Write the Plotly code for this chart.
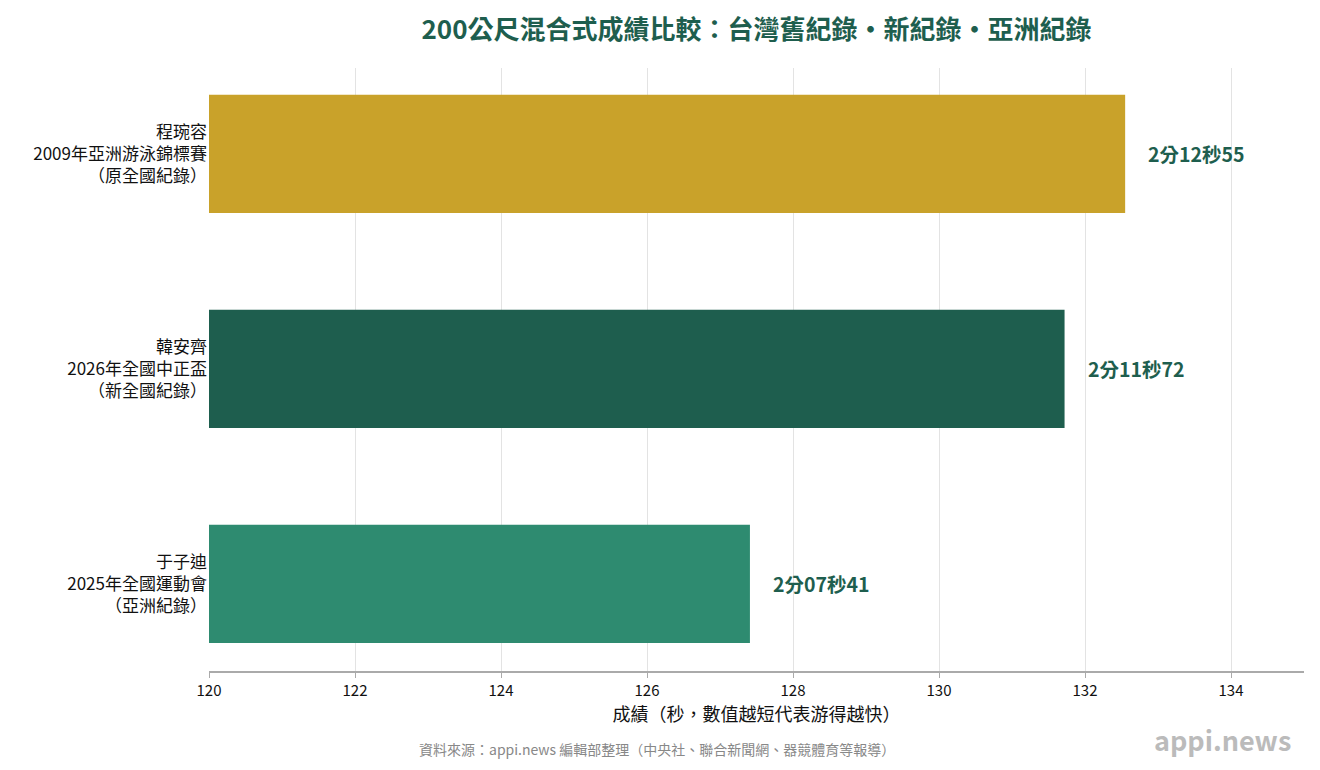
import plotly.graph_objects as go

# data
labels = [
    "于子迪<br>2025年全國運動會<br>（亞洲紀錄）",
    "韓安齊<br>2026年全國中正盃<br>（新全國紀錄）",
    "程琬容<br>2009年亞洲游泳錦標賽<br>（原全國紀錄）",
]
seconds = [127.41, 131.72, 132.55]
time_text = ["2分07秒41", "2分11秒72", "2分12秒55"]
bar_colors = ["#2E8B70", "#1E5E4E", "#C9A22A"]

FONT = "Noto Sans CJK TC"
GREEN = "#1E5E4E"

fig = go.Figure()
fig.add_trace(
    go.Bar(
        x=seconds,
        y=labels,
        orientation="h",
        width=0.55,
        marker=dict(color=bar_colors, line=dict(width=0)),
        hoverinfo="x",
    )
)

# value labels to the right of each bar
for lab, val, txt in zip(labels, seconds, time_text):
    fig.add_annotation(
        x=val, y=lab, text="<b>%s</b>" % txt, showarrow=False,
        xanchor="left", xshift=21, font=dict(size=19.5, color=GREEN, family=FONT),
    )

fig.add_annotation(
    x=0.409, y=-0.129, xref="paper", yref="paper", showarrow=False,
    text="資料來源：appi.news 編輯部整理（中央社、聯合新聞網、器競體育等報導）",
    font=dict(size=14, color="#888888", family=FONT), xanchor="center", yanchor="middle",
)
fig.add_annotation(
    x=0.99, y=-0.114, xref="paper", yref="paper", showarrow=False,
    text="<b>appi.news</b>", font=dict(size=27, color="#BBBBBB", family=FONT),
    xanchor="right", yanchor="middle",
)

fig.update_layout(
    width=1320, height=770,
    margin=dict(l=201, r=24, t=60, b=107),
    paper_bgcolor="white", plot_bgcolor="white",
    showlegend=False,
    font=dict(family=FONT, color="#111111"),
    title=dict(
        text="<b>200公尺混合式成績比較：台灣舊紀錄・新紀錄・亞洲紀錄</b>",
        x=0.5, xref="paper", y=0.972, yanchor="middle",
        font=dict(size=26, color=GREEN, family=FONT),
    ),
)
fig.update_xaxes(
    range=[120, 135], dtick=2, tick0=120,
    showgrid=True, gridcolor="#E3E3E3", gridwidth=1,
    showline=True, linecolor="#AAAAAA", linewidth=1.5,
    ticks="outside", ticklen=5, tickcolor="#AAAAAA",
    tickfont=dict(size=15, color="#111111"),
    title=dict(text="成績（秒，數值越短代表游得越快）", font=dict(size=18), standoff=3),
    zeroline=False,
)
fig.update_yaxes(
    range=[-0.405, 2.4], showgrid=False, showline=False, ticks="",
    tickfont=dict(size=17, color="#111111"), ticklabelstandoff=1,
)

fig.write_html("out.html")
